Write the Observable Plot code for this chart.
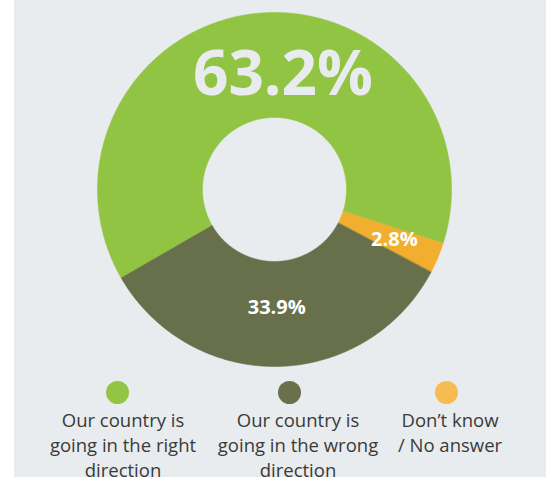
<!DOCTYPE html>
<html><head><meta charset="utf-8">
<script src="https://cdn.jsdelivr.net/npm/d3@7"></script>
<script src="https://cdn.jsdelivr.net/npm/@observablehq/plot@0.6"></script>
<style>
html,body{margin:0;padding:0;background:#fff;overflow:hidden}
#panel{position:absolute;left:14px;top:0;width:532px;height:477px;background:#e8ecee;overflow:hidden}
#chart svg{display:block;background:transparent}
#legend{position:relative;height:97px}
.dot{position:absolute;width:23px;height:23px;border-radius:50%;top:1px}
.txt{position:absolute;top:27px;width:190px;text-align:center;font-family:"Open Sans",sans-serif;font-size:18.5px;line-height:25px;color:#3a3a3a;white-space:nowrap}
</style></head>
<body>
<div id="panel"><div id="chart"></div><div id="legend"></div></div>
<script>
// ---- data ----
const categories = ["Our country is going in the right direction", "Our country is going in the wrong direction", "Don’t know / No answer"];
const values = [63.2, 33.9, 2.8];
const valueLabels = ["63.2%", "33.9%", "2.8%"];
const sliceColors = ["#92c443", "#68704b", "#f2ae2f"];
const legendColors = ["#93c443", "#6a704c", "#f6bc53"];
const legendLines = [
  ["Our country is", "going in the right", "direction"],
  ["Our country is", "going in the wrong", "direction"],
  ["Don’t know", "/ No answer"]
];
const pieOrder = [0, 2, 1]; // clockwise drawing order

// ---- layout ----
const W = 532, H = 380, CX = 260, CY = 189, R = 177, r = 72;
const deg = Math.PI / 180;

const pie = d3.pie().sort(null).value(i => values[i])
  .startAngle(-120 * deg).endAngle(240 * deg);
const arcs = pie(pieOrder);

const pts = [];
const labelPts = [];
for (const a of arcs) {
  const i = a.data;
  const n = Math.max(8, Math.ceil((a.endAngle - a.startAngle) / (0.3 * deg)));
  for (let k = 0; k <= n; k++) {
    const t = a.startAngle + (a.endAngle - a.startAngle) * k / n;
    pts.push({k: i, x: R * Math.sin(t), y: R * Math.cos(t)});
  }
  for (let k = n; k >= 0; k--) {
    const t = a.startAngle + (a.endAngle - a.startAngle) * k / n;
    pts.push({k: i, x: r * Math.sin(t), y: r * Math.cos(t)});
  }
  const m = (a.startAngle + a.endAngle) / 2;
  const lr = i === 2 ? 130 : 118;
  labelPts.push({k: i, label: valueLabels[i], x: lr * Math.sin(m), y: lr * Math.cos(m)});
}

const big = labelPts.filter(d => values[d.k] === d3.max(values));
const small = labelPts.filter(d => values[d.k] !== d3.max(values));

const plot = Plot.plot({
  width: W, height: H,
  marginTop: 0, marginBottom: 0, marginLeft: 0, marginRight: 0,
  x: {domain: [-CX, W - CX], axis: null},
  y: {domain: [-(H - CY), CY], axis: null},
  color: {domain: [0, 1, 2], range: sliceColors},
  style: {background: "transparent"},
  marks: [
    Plot.line(pts, {x: "x", y: "y", z: "k", fill: d => sliceColors[d.k], stroke: d => sliceColors[d.k], strokeWidth: 0.6, curve: "linear-closed"}),
    Plot.text(big, {x: "x", y: "y", text: "label", dx: 21, dy: 3, fill: "#e8ecee", fontSize: 62, fontWeight: "bold", fontFamily: "Open Sans", lineAnchor: "middle", textAnchor: "middle", style: "letter-spacing:-1px"}),
    Plot.text(small, {x: "x", y: "y", text: "label", fill: "#ffffff", fontSize: 20, fontWeight: "bold", fontFamily: "Open Sans", lineAnchor: "middle", textAnchor: "middle"})
  ]
});
document.getElementById("chart").appendChild(plot);

// ---- legend ----
const textCenters = [109, 284, 436];
const dotCenters = [103, 275, 432];
const legend = document.getElementById("legend");
categories.forEach((c, i) => {
  const dot = document.createElement("div");
  dot.className = "dot";
  dot.style.left = (dotCenters[i] - 11.5) + "px";
  dot.style.background = legendColors[i];
  dot.title = c;
  legend.appendChild(dot);
  const t = document.createElement("div");
  t.className = "txt";
  t.style.left = (textCenters[i] - 95) + "px";
  t.innerHTML = legendLines[i].join("<br>");
  legend.appendChild(t);
});
</script>
</body></html>
